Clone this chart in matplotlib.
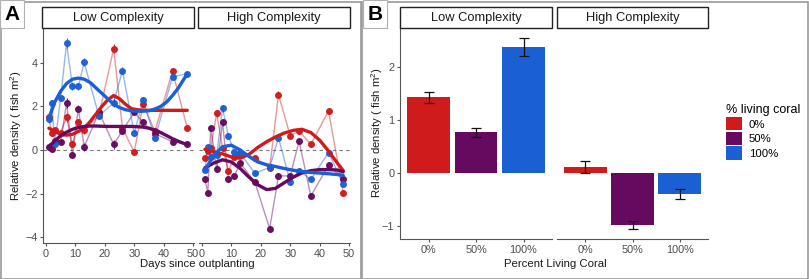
import matplotlib.pyplot as plt
from matplotlib.patches import Patch, Rectangle

plt.rcParams['font.family'] = ['Liberation Sans', 'DejaVu Sans']
plt.rcParams['mathtext.default'] = 'regular'

W, H = 809, 279

# colours per % living coral
levels = ['0%', '50%', '100%']
colors = ['#CF1B1B', '#650A5F', '#1A60D4']

# ---- panel A: raw points (days since outplanting) ----
days = [1, 2, 3, 5, 7, 9, 11, 13, 18, 23, 26, 30, 33, 37, 43, 48]

low_red = [1.5, 0.76, 0.9, 0.8, 1.5, 0.27, 1.27, 0.9, 1.6, 4.65, 1.0, -0.1, 2.1, 0.85, 3.62, 1.02]
low_purple = [0.15, 0.05, 0.4, 0.38, 2.15, -0.23, 1.9, 0.15, 1.73, 0.26, 0.89, 1.73, 1.27, 0.75, 0.38, 0.26]
low_blue = [1.4, 2.15, 0.26, 2.4, 4.9, 2.92, 2.92, 4.02, 1.56, 2.17, 3.64, 0.76, 2.3, 0.54, 3.36, 3.5]

high_red = [-0.35, -0.05, 0.1, 1.68, 0.1, -0.96, -0.3, -0.2, -0.35, -0.84, 2.54, 0.66, 0.87, 0.26, 1.79, -1.96]
high_purple = [-1.33, -1.96, 1.0, -0.86, 1.27, -1.33, -1.2, -0.6, -1.48, -3.61, -1.19, -1.19, 0.41, -2.11, -0.7, -1.33]
high_blue = [-0.94, 0.15, -0.3, -0.23, 1.91, 0.64, -0.1, -0.15, -1.07, -0.8, 0.55, -1.45, -0.95, -1.35, -0.12, -1.57]

se_low = [0.15, 0.12, 0.1, 0.12, 0.22, 0.15, 0.15, 0.18, 0.12, 0.2, 0.15, 0.12, 0.15, 0.1, 0.15, 0.1]
se_high = [0.12, 0.1, 0.12, 0.15, 0.15, 0.12, 0.1, 0.1, 0.1, 0.12, 0.15, 0.1, 0.12, 0.1, 0.12, 0.1]

# smoothed trends
sm_days_low = [1, 3, 5, 7, 9, 11, 13, 15, 17, 19, 21, 23, 25, 27, 29, 31, 33, 35, 37, 39, 41, 43, 45, 48]
sm_low_red = [1.0, 0.85, 0.72, 0.68, 0.72, 0.85, 1.0, 1.3, 1.65, 2.0, 2.3, 2.5, 2.35, 2.1, 1.9, 1.85,
              1.82, 1.82, 1.82, 1.82, 1.82, 1.82, 1.82, 1.82]
sm_low_purple = [0.15, 0.42, 0.65, 0.82, 0.95, 1.03, 1.08, 1.1, 1.1, 1.09, 1.08, 1.08, 1.08, 1.08, 1.08,
                 1.07, 1.05, 1.0, 0.92, 0.8, 0.66, 0.52, 0.4, 0.24]
sm_low_blue = [1.45, 2.2, 2.7, 3.05, 3.25, 3.3, 3.25, 3.1, 2.85, 2.6, 2.35, 2.1, 1.95, 1.85, 1.8, 1.78,
               1.78, 1.8, 1.88, 2.0, 2.2, 2.5, 2.85, 3.5]

sm_days_high = [1, 4, 7, 10, 13, 16, 19, 22, 25, 28, 31, 34, 37, 40, 43, 46, 48]
sm_high_red = [0.03, -0.1, -0.18, -0.32, -0.38, -0.2, 0.12, 0.38, 0.6, 0.78, 0.9, 0.95, 0.8, 0.45, -0.05, -0.6, -0.95]
sm_high_purple = [-0.82, -0.6, -0.45, -0.55, -0.85, -1.25, -1.6, -1.82, -1.76, -1.5, -1.25, -1.05, -0.95, -0.9, -0.9, -0.92, -1.0]
sm_high_blue = [-0.92, -0.25, 0.15, 0.22, 0.0, -0.3, -0.55, -0.68, -0.76, -0.85, -0.93, -0.99, -1.03, -1.06, -1.09, -1.13, -1.16]

# ---- panel B: mean relative density with SE ----
bar_low = [1.42, 0.76, 2.38]
bar_low_se = [0.11, 0.09, 0.17]
bar_high = [0.11, -0.99, -0.40]
bar_high_se = [0.11, 0.08, 0.10]

grey_txt = '#4d4d4d'
axis_col = '#555555'
ylab = 'Relative density ( fish m$^2$)'


def ax_px(x0, y0, x1, y1):
    return fig.add_axes([x0 / W, 1 - y1 / H, (x1 - x0) / W, (y1 - y0) / H])


def style(ax, left=True):
    for s in ['top', 'right']:
        ax.spines[s].set_visible(False)
    ax.spines['bottom'].set_color(axis_col)
    ax.spines['left'].set_color(axis_col)
    ax.spines['left'].set_visible(left)
    ax.tick_params(colors=axis_col, labelcolor=grey_txt, labelsize=7.8, length=2.5, width=0.8, pad=1.5)
    if not left:
        ax.tick_params(axis='y', left=False, labelleft=False)


def strip(x0, x1, text):
    fig.patches.append(Rectangle((x0 / W, 1 - 27.5 / H), (x1 - x0) / W, 20 / H, transform=fig.transFigure,
                                 facecolor='white', edgecolor='#222222', lw=1.0))
    fig.text((x0 + x1) / 2 / W, 1 - 17.5 / H, text, ha='center', va='center', fontsize=9.3, color='#1a1a1a')


fig = plt.figure(figsize=(W / 100, H / 100), dpi=100)

# outer frames
fig.patches.append(Rectangle((0.5 / W, 0.5 / H), 360 / W, 277 / H, transform=fig.transFigure,
                             fill=False, edgecolor='#9a9a9a', lw=1.2))
fig.patches.append(Rectangle((361.5 / W, 0.5 / H), 446 / W, 277 / H, transform=fig.transFigure,
                             fill=False, edgecolor='#9a9a9a', lw=1.2))

# panel A
panelA = [(43, 194, 'Low Complexity', [low_red, low_purple, low_blue], se_low,
           sm_days_low, [sm_low_red, sm_low_purple, sm_low_blue]),
          (199, 350, 'High Complexity', [high_red, high_purple, high_blue], se_high,
           sm_days_high, [sm_high_red, sm_high_purple, sm_high_blue])]
for i, (x0, x1, title, series, se, sd, smooth) in enumerate(panelA):
    ax = ax_px(x0, 28, x1, 243)
    ax.axhline(0, color='#777777', lw=0.8, ls=(0, (3, 3)), zorder=0)
    for vals, sm, c in zip(series, smooth, colors):
        ax.plot(days, vals, color=c, lw=1.0, alpha=0.45, zorder=1)
        ax.errorbar(days, vals, yerr=se, fmt='o', ms=4.0, color=c, ecolor=c, elinewidth=0.8,
                    capsize=0, alpha=0.95, zorder=2)
        ax.plot(sd, sm, color=c, lw=2.4, solid_capstyle='round', zorder=3)
    ax.set_xlim(-1.0, 50.3)
    ax.set_ylim(-4.27, 5.6)
    ax.set_xticks([0, 10, 20, 30, 40, 50])
    ax.set_yticks([-4, -2, 0, 2, 4])
    style(ax, left=(i == 0))
    strip(x0 - 1, x1, title)

fig.text(16 / W, 1 - 136 / H, ylab, rotation=90, ha='center', va='center', fontsize=8.2, color='#1a1a1a')
fig.text(197 / W, 1 - 264 / H, 'Days since outplanting', ha='center', va='center', fontsize=8.2, color='#1a1a1a')

# panel B
panelB = [(400, 552, 'Low Complexity', bar_low, bar_low_se),
          (557, 708, 'High Complexity', bar_high, bar_high_se)]
for i, (x0, x1, title, vals, se) in enumerate(panelB):
    ax = ax_px(x0, 27, x1, 239)
    pos = range(len(levels))
    ax.bar(pos, vals, width=0.9, color=colors, zorder=1)
    ax.errorbar(pos, vals, yerr=se, fmt='none', ecolor='#111111', elinewidth=0.9, capsize=3.5,
                capthick=0.9, zorder=2)
    ax.set_xlim(-0.6, 2.6)
    ax.set_ylim(-1.25, 2.75)
    ax.set_xticks(list(pos))
    ax.set_xticklabels(levels)
    ax.set_yticks([-1, 0, 1, 2])
    style(ax, left=(i == 0))
    strip(x0, x1, title)

fig.text(377 / W, 1 - 133 / H, ylab, rotation=90, ha='center', va='center', fontsize=8.2, color='#1a1a1a')
fig.text(555 / W, 1 - 264 / H, 'Percent Living Coral', ha='center', va='center', fontsize=8.2, color='#1a1a1a')

handles = [Patch(facecolor=c, edgecolor='none') for c in colors]
fig.legend(handles, levels, loc='upper left', bbox_to_anchor=(718 / W, 1 - 96 / H), frameon=False,
           title='% living coral', title_fontsize=9, fontsize=8.2, handlelength=1.4, handleheight=1.4,
           handletextpad=0.6, labelspacing=0.12, alignment='left', borderpad=0.2)

# panel letters
for x, lab in [(12, 'A'), (375, 'B')]:
    fig.text(x / W, 1 - 14 / H, lab, ha='center', va='center', fontsize=15, fontweight='bold',
             bbox=dict(boxstyle='square,pad=0.2', facecolor='white', edgecolor='#b0b0b0', lw=0.8))

fig.savefig('out.png', dpi=100)
